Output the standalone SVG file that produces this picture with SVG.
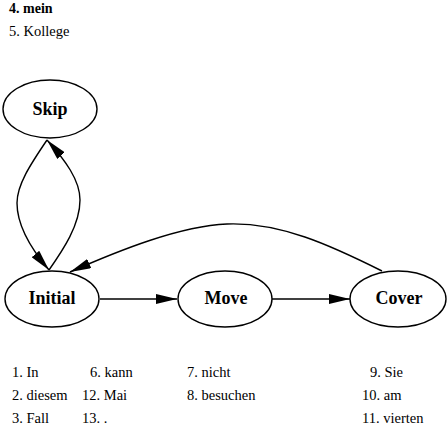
<svg xmlns="http://www.w3.org/2000/svg" width="448" height="427" viewBox="0 0 448 427">
<defs>
<style>
.t{font-family:"Liberation Serif","DejaVu Serif",serif;font-size:14.5px;fill:#000}
.h{font-size:14px}
.b{font-weight:bold}
.n{font-family:"Liberation Serif","DejaVu Serif",serif;font-size:18px;font-weight:bold;fill:#000;text-anchor:middle}
.e{fill:#fff;stroke:#000;stroke-width:1.4}
.c{fill:none;stroke:#000;stroke-width:1.4}
</style>
<marker id="ah" markerWidth="21" markerHeight="10" refX="21" refY="5" orient="auto" markerUnits="userSpaceOnUse">
<path d="M0,0 L21,5 L0,10 Z" fill="#000"/>
</marker>
</defs>
<rect width="448" height="427" fill="#fff"/>
<text class="t h b" x="9" y="13">4. mein</text>
<text class="t" x="9" y="36">5. Kollege</text>
<g id="connectors">
<path class="c" d="M47,140 C30,165 17,185 17,203 C17,225 32,250 49,270" marker-end="url(#ah)"/>
<path class="c" d="M49,270 C63,250 80,225 80,200 C80,180 65,160 47,140" marker-end="url(#ah)"/>
<path class="c" d="M382,271 C330,245 280,222 227,224 C180,226 120,250 70,272" marker-end="url(#ah)"/>
<path class="c" d="M100,299 L177,299" marker-end="url(#ah)"/>
<path class="c" d="M272,299 L350,299" marker-end="url(#ah)"/>
</g>
<g id="node-skip">
<ellipse class="e" cx="50" cy="109" rx="47" ry="29"/>
<text class="n" x="50" y="115">Skip</text>
</g>
<g id="node-initial">
<ellipse class="e" cx="52" cy="299" rx="47" ry="28"/>
<text class="n" x="52" y="304">Initial</text>
</g>
<g id="node-move">
<ellipse class="e" cx="225" cy="299" rx="47" ry="28"/>
<text class="n" x="226" y="304">Move</text>
</g>
<g id="node-cover">
<ellipse class="e" cx="398" cy="299" rx="48" ry="28"/>
<text class="n" x="399" y="304">Cover</text>
</g>
<g id="legend">
<text class="t" x="12" y="377">1. In</text>
<text class="t" x="12" y="400">2. diesem</text>
<text class="t" x="12" y="423">3. Fall</text>
<text class="t" x="90" y="377">6. kann</text>
<text class="t" x="82" y="400">12. Mai</text>
<text class="t" x="82" y="423">13. .</text>
<text class="t" x="187" y="377">7. nicht</text>
<text class="t" x="187" y="400">8. besuchen</text>
<text class="t" x="370" y="377">9. Sie</text>
<text class="t" x="362" y="400">10. am</text>
<text class="t" x="362" y="423">11. vierten</text>
</g>
</svg>
